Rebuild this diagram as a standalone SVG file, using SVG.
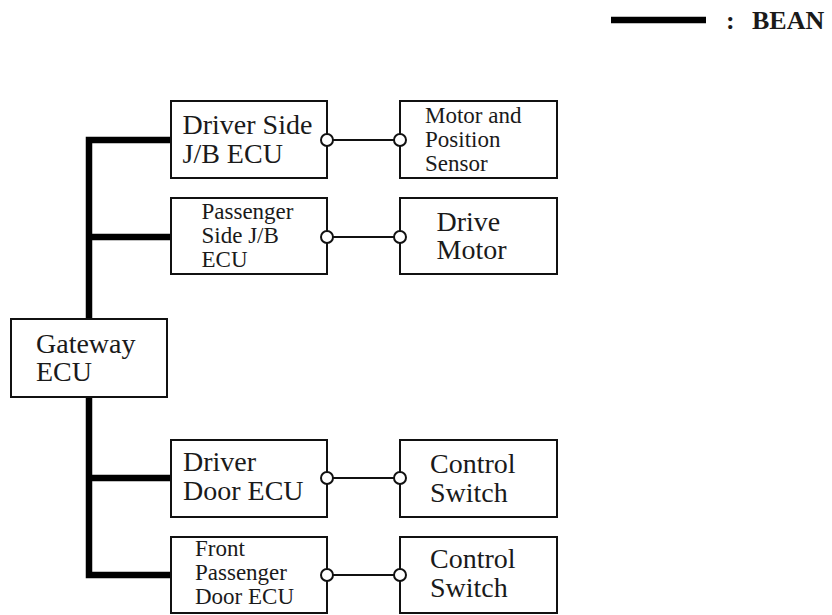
<svg xmlns="http://www.w3.org/2000/svg" width="832" height="615" viewBox="0 0 832 615">
<style>
  .box { fill: #fff; stroke: #111; stroke-width: 2; }
  .t { font-family: "Liberation Serif", "Times New Roman", serif; fill: #1a1a1a; }
  .lg { font-size: 28px; }
  .sm { font-size: 23px; }
  .bus { fill: none; stroke: #000; stroke-width: 6.5; stroke-linejoin: miter; }
  .wire { fill: none; stroke: #111; stroke-width: 2; }
  .pin { fill: #fff; stroke: #111; stroke-width: 2; }
  .legend { font-family: "Liberation Serif", "Times New Roman", serif; font-weight: bold; font-size: 26px; fill: #1a1a1a; }
</style>
<rect width="832" height="615" fill="#fff"/>
<g id="legend">
  <line x1="611" y1="20" x2="706" y2="20" stroke="#000" stroke-width="6.5"/>
  <text class="legend" x="726" y="29">:<tspan x="752">BEAN</tspan></text>
</g>
<g id="connectors">
  <path class="bus" d="M171 140 H89 V575 H171 M89 237 H171 M89 478 H171"/>
  <line class="wire" x1="327" y1="140" x2="400" y2="140"/>
  <line class="wire" x1="327" y1="237" x2="400" y2="237"/>
  <line class="wire" x1="327" y1="478" x2="400" y2="478"/>
  <line class="wire" x1="327" y1="575" x2="400" y2="575"/>
</g>
<g id="gateway">
  <rect class="box" x="11" y="319" width="156" height="78"/>
  <text class="t lg" x="36" y="353">Gateway</text>
  <text class="t lg" x="36" y="381">ECU</text>
</g>
<g id="driver-jb">
  <rect class="box" x="171" y="101" width="156" height="77"/>
  <text class="t lg" x="182.5" y="134">Driver Side</text>
  <text class="t lg" x="182.5" y="162.5">J/B ECU</text>
</g>
<g id="passenger-jb">
  <rect class="box" x="171" y="198" width="156" height="76"/>
  <text class="t sm" x="201.5" y="219">Passenger</text>
  <text class="t sm" x="201.5" y="243">Side J/B</text>
  <text class="t sm" x="201.5" y="267">ECU</text>
</g>
<g id="motor-position">
  <rect class="box" x="400" y="101" width="157" height="77"/>
  <text class="t sm" x="425" y="122.5">Motor and</text>
  <text class="t sm" x="425" y="146.5">Position</text>
  <text class="t sm" x="425" y="170.5">Sensor</text>
</g>
<g id="drive-motor">
  <rect class="box" x="400" y="198" width="157" height="76"/>
  <text class="t lg" x="436.5" y="231">Drive</text>
  <text class="t lg" x="436.5" y="259">Motor</text>
</g>
<g id="driver-door">
  <rect class="box" x="171" y="440" width="156" height="77"/>
  <text class="t lg" x="183" y="471">Driver</text>
  <text class="t lg" x="183" y="500">Door ECU</text>
</g>
<g id="front-passenger-door">
  <rect class="box" x="171" y="537" width="156" height="76"/>
  <text class="t sm" x="195" y="556">Front</text>
  <text class="t sm" x="195" y="580">Passenger</text>
  <text class="t sm" x="195" y="604">Door ECU</text>
</g>
<g id="control-switch-1">
  <rect class="box" x="400" y="440" width="157" height="77"/>
  <text class="t lg" x="430" y="473">Control</text>
  <text class="t lg" x="430" y="501.5">Switch</text>
</g>
<g id="control-switch-2">
  <rect class="box" x="400" y="537" width="157" height="76"/>
  <text class="t lg" x="430" y="568">Control</text>
  <text class="t lg" x="430" y="596.5">Switch</text>
</g>
<g id="pins">
  <circle class="pin" cx="327" cy="140" r="6"/>
  <circle class="pin" cx="400" cy="140" r="6"/>
  <circle class="pin" cx="327" cy="237" r="6"/>
  <circle class="pin" cx="400" cy="237" r="6"/>
  <circle class="pin" cx="327" cy="478" r="6"/>
  <circle class="pin" cx="400" cy="478" r="6"/>
  <circle class="pin" cx="327" cy="575" r="6"/>
  <circle class="pin" cx="400" cy="575" r="6"/>
</g>
</svg>
